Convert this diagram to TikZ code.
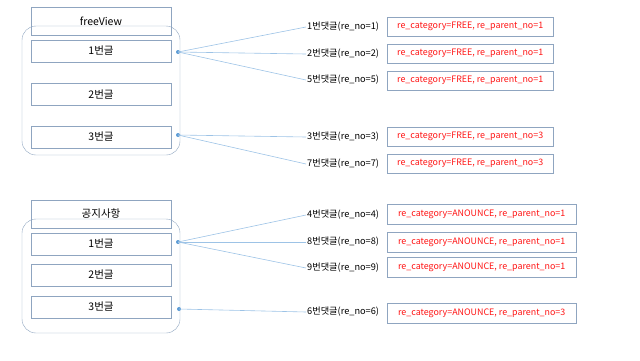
\documentclass[tikz,border=0pt]{standalone}
\usepackage{fontspec}
\setmainfont{Noto Sans CJK KR}
\definecolor{BoxLine}{RGB}{143,165,192}
\definecolor{LinkBlue}{RGB}{157,195,230}
\definecolor{DotBlue}{RGB}{91,155,213}
\definecolor{NoteRed}{RGB}{255,20,20}
\usepackage{tikz}
\usetikzlibrary{positioning}

\begin{document}
\begin{tikzpicture}[x=1pt,y=-1pt,
      post/.style={draw=BoxLine,minimum width=140pt,minimum height=22pt,inner sep=0pt,
                   font=\fontsize{10.5}{12}\selectfont},
      group/.style={draw=BoxLine,rounded corners=14pt,minimum width=158pt,inner sep=0pt},
      reply/.style={anchor=west,inner sep=1pt,font=\fontsize{9.2}{11}\selectfont},
      cat/.style={draw=BoxLine,anchor=west,minimum height=19pt,inner sep=0pt,
                  text=NoteRed,font=\fontsize{8.9}{10}\selectfont},
      dot/.style={circle,fill=DotBlue,inner sep=0pt,minimum size=4pt},
      link/.style={draw=LinkBlue,line width=0.6pt}]
    \useasboundingbox (0,0) rectangle (640,360);
    % free board
    \node[group,minimum height=129pt] (freeGroup) at (101,90.5) {};
    \node[post,minimum height=28pt] (free) at (101,21) {freeView};
    \node[post] (free1) at (101,51) {1번글};
    \node[post] (free2) at (101,94.5) {2번글};
    \node[post] (free3) at (101,137) {3번글};
    \node[dot] (freeDot1) at (178,52) {};
    \node[dot] (freeDot3) at (178,135) {};
    \node[reply] (re1) at (306,27) {1번댓글(re\_no=1)};
    \node[reply] (re2) at (306,54) {2번댓글(re\_no=2)};
    \node[reply] (re5) at (306,80) {5번댓글(re\_no=5)};
    \node[reply] (re3) at (306,137) {3번댓글(re\_no=3)};
    \node[reply] (re7) at (306,164) {7번댓글(re\_no=7)};
    \node[cat,minimum width=166pt] (cat1) at (387,26.5) {re\_category=FREE, re\_parent\_no=1};
    \node[cat,minimum width=166pt] (cat2) at (387,53.5) {re\_category=FREE, re\_parent\_no=1};
    \node[cat,minimum width=166pt] (cat5) at (387,80.5) {re\_category=FREE, re\_parent\_no=1};
    \node[cat,minimum width=166pt] (cat3) at (387,136.5) {re\_category=FREE, re\_parent\_no=3};
    \node[cat,minimum width=166pt] (cat7) at (387,163.5) {re\_category=FREE, re\_parent\_no=3};
    \draw[link] (freeDot1.center) -- (re1.west);
    \draw[link] (freeDot1.center) -- (re2.west);
    \draw[link] (freeDot1.center) -- (re5.west);
    \draw[link] (freeDot3.center) -- (re3.west);
    \draw[link] (freeDot3.center) -- (re7.west);
    % notice board
    \node[group,minimum height=114pt] (noticeGroup) at (101,276) {};
    \node[post,minimum height=28pt] (notice) at (101,214) {공지사항};
    \node[post] (notice1) at (101,244) {1번글};
    \node[post] (notice2) at (101,275) {2번글};
    \node[post] (notice3) at (101,307) {3번글};
    \node[dot] (noticeDot1) at (178,242) {};
    \node[dot] (noticeDot3) at (179,309) {};
    \node[reply] (re4) at (306,215) {4번댓글(re\_no=4)};
    \node[reply] (re8) at (306,242) {8번댓글(re\_no=8)};
    \node[reply] (re9) at (306,268) {9번댓글(re\_no=9)};
    \node[reply] (re6) at (306,312) {6번댓글(re\_no=6)};
    \node[cat,minimum width=189pt,minimum height=20pt] (cat4) at (387,214) {re\_category=ANOUNCE, re\_parent\_no=1};
    \node[cat,minimum width=189pt,minimum height=20pt] (cat8) at (387,242) {re\_category=ANOUNCE, re\_parent\_no=1};
    \node[cat,minimum width=189pt,minimum height=20pt] (cat9) at (387,267.5) {re\_category=ANOUNCE, re\_parent\_no=1};
    \node[cat,minimum width=189pt,minimum height=20pt] (cat6) at (387,313) {re\_category=ANOUNCE, re\_parent\_no=3};
    \draw[link] (noticeDot1.center) -- (re4.west);
    \draw[link] (noticeDot1.center) -- (re8.west);
    \draw[link] (noticeDot1.center) -- (re9.west);
    \draw[link] (noticeDot3.center) -- (re6.west);
  \end{tikzpicture}
\end{document}
